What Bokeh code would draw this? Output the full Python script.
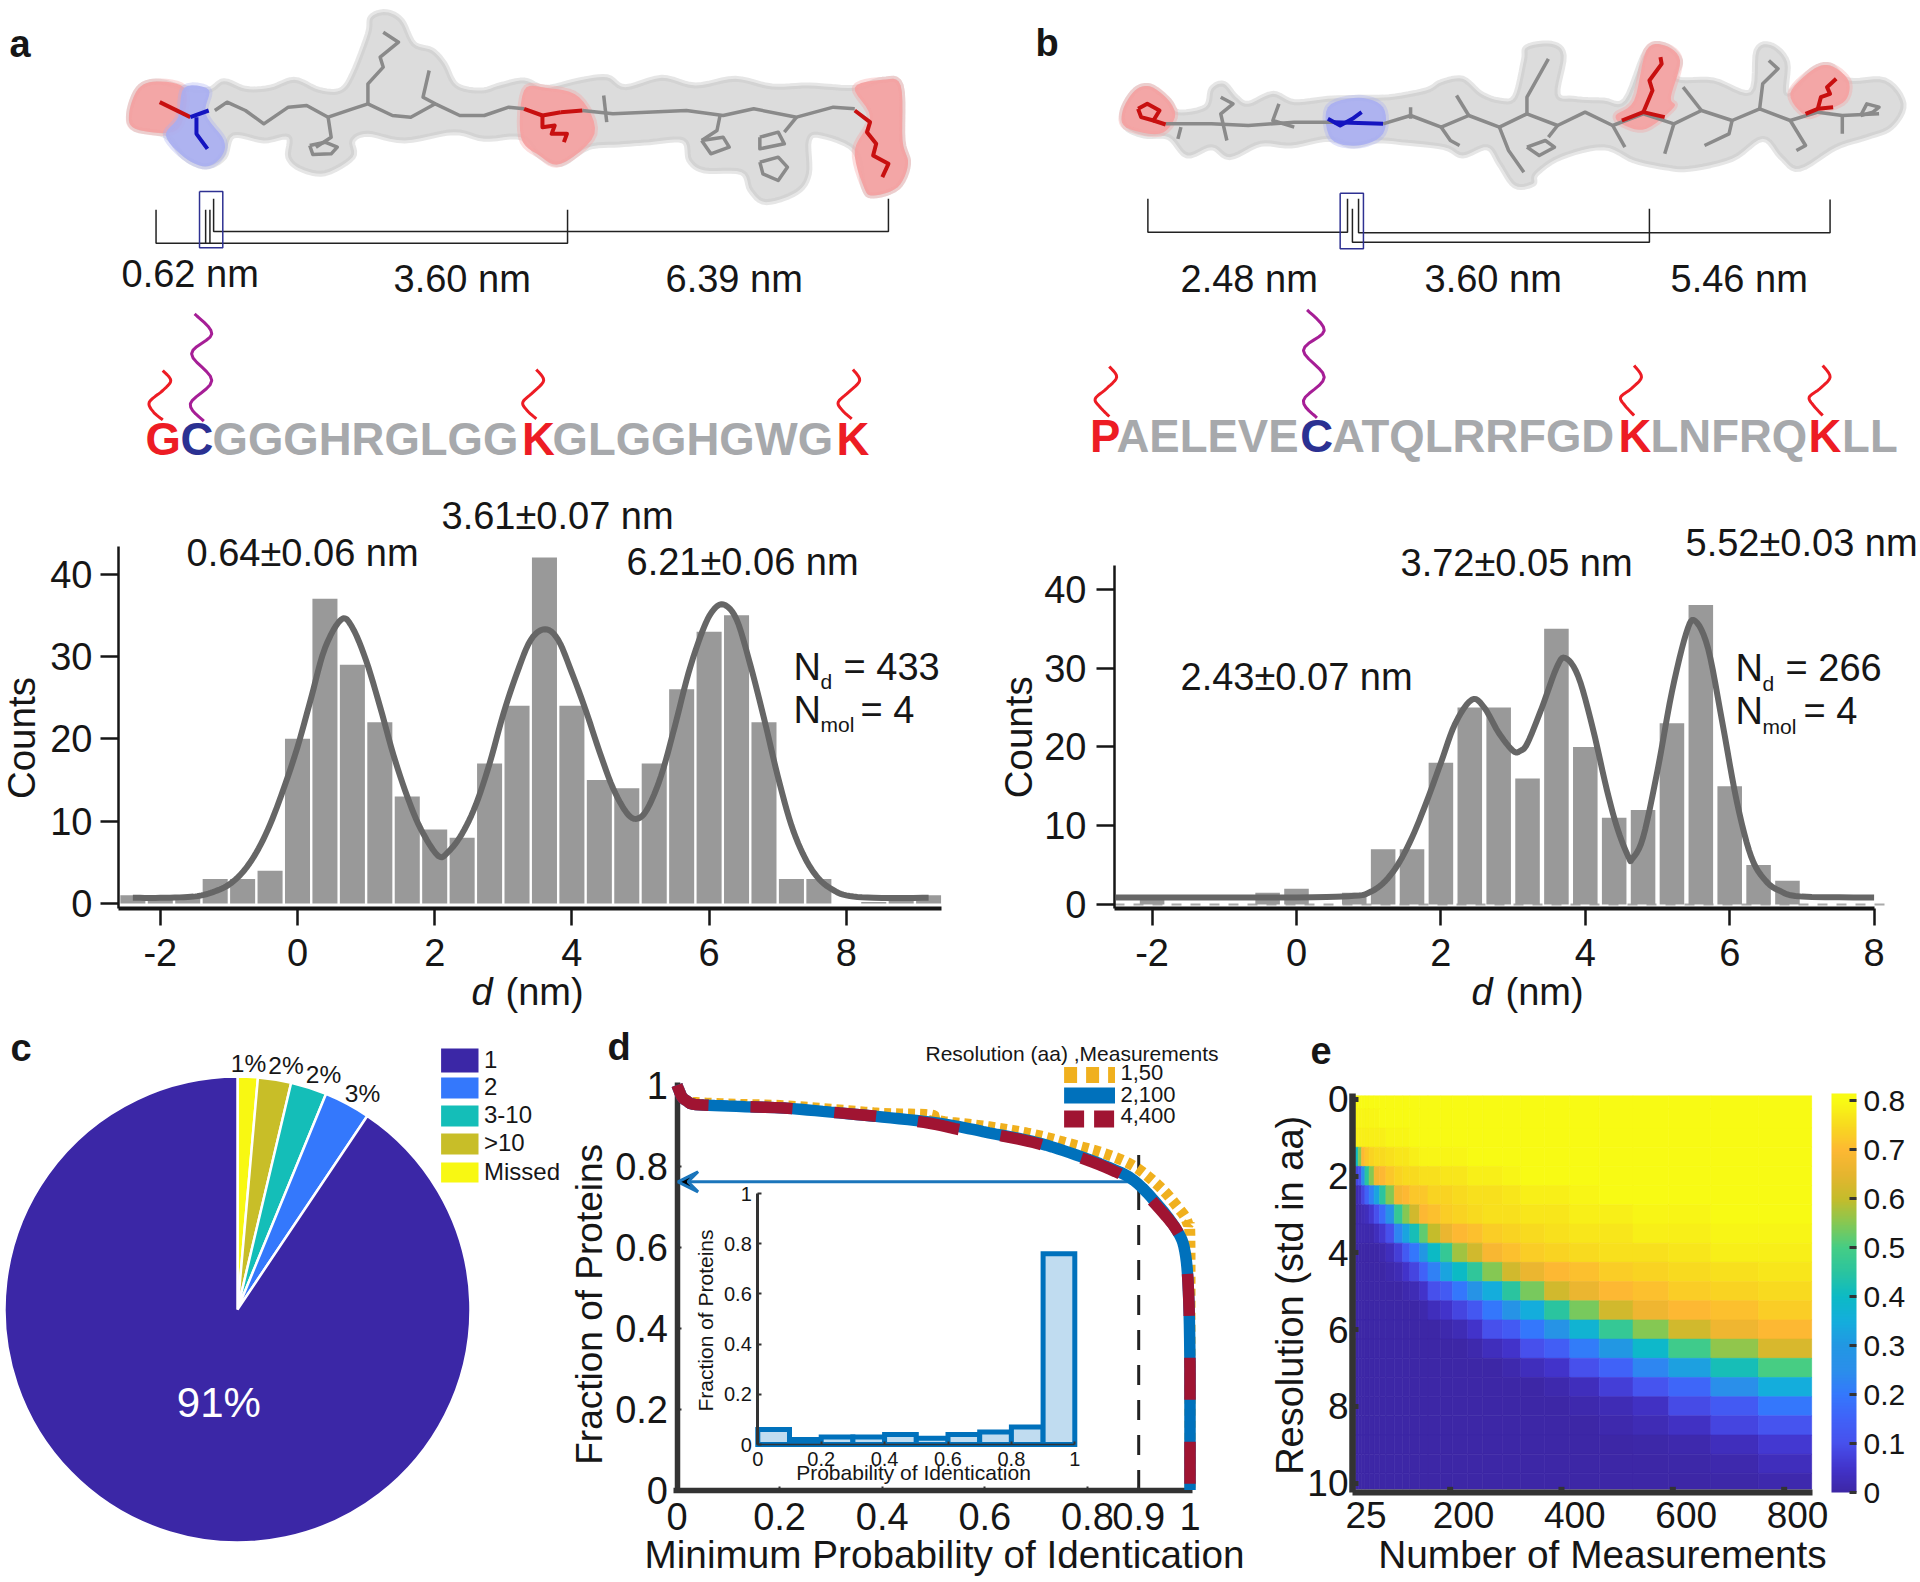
import math
import numpy as np
from bokeh.plotting import figure
from bokeh.models import (Range1d, FixedTicker, LinearColorMapper, ColorBar, Arrow, VeeHead,
                          ColumnDataSource)
from bokeh.core.properties import value
from bokeh.embed import file_html
from bokeh.resources import INLINE

FONT = "Liberation Sans"
INK = "#161616"

# ---------- panel a / b histograms ----------
a_centers = [-2.4, -2.0, -1.6, -1.2, -0.8, -0.4, 0.0, 0.4, 0.8, 1.2, 1.6, 2.0, 2.4, 2.8, 3.2, 3.6, 4.0, 4.4, 4.8, 5.2, 5.6, 6.0, 6.4, 6.8, 7.2, 7.6, 8.0, 8.4, 8.8, 9.2]
a_counts = [1, 1, 1, 3, 3, 4, 20, 37, 29, 22, 13, 9, 8, 17, 24, 42, 24, 15, 14, 17, 26, 33, 35, 22, 3, 3, 0, 0.2, 1, 1]
a_fit_x = [-2.4, -2.0, -1.6, -1.4, -1.2, -1.0, -0.8, -0.6, -0.4, -0.2, 0.0, 0.2, 0.4, 0.64, 0.8, 1.0, 1.2, 1.4, 1.6, 1.8, 2.05, 2.2, 2.4, 2.6, 2.8, 3.0, 3.2, 3.4, 3.61, 3.8, 4.0, 4.2, 4.4, 4.6, 4.8, 4.95, 5.1, 5.3, 5.5, 5.7, 5.9, 6.05, 6.21, 6.4, 6.6, 6.8, 7.0, 7.2, 7.4, 7.6, 7.8, 8.0, 8.4, 9.2]
a_fit_y = [0.7, 0.7, 0.8, 1.0, 1.5, 2.3, 3.8, 6.2, 9.6, 14, 19, 25, 31, 34.5, 33.5, 29.5, 24, 18, 13, 9, 5.8, 6.3, 8.5, 12, 17, 23, 28, 32, 33.3, 32, 28, 23.5, 18.5, 14, 11, 10.3, 11.5, 15.5, 21.5, 28, 33, 35.5, 36.3, 34.5, 29, 22.5, 15.5, 9.5, 5.5, 3, 1.7, 1.0, 0.7, 0.7]

b_centers = [-2.0, -0.4, 0.0, 0.8, 1.2, 1.6, 2.0, 2.4, 2.8, 3.2, 3.6, 4.0, 4.4, 4.8, 5.2, 5.6, 6.0, 6.4, 6.8]
b_counts = [1, 1.5, 2, 1.5, 7, 7, 18, 25, 25, 16, 35, 20, 11, 12, 23, 38, 15, 5, 3]
b_fit_x = [-2.5, 0.0, 0.8, 1.0, 1.2, 1.4, 1.6, 1.8, 2.0, 2.2, 2.43, 2.6, 2.8, 3.0, 3.1, 3.2, 3.4, 3.6, 3.72, 3.9, 4.1, 4.3, 4.45, 4.6, 4.65, 4.8, 5.0, 5.2, 5.4, 5.52, 5.7, 5.9, 6.1, 6.3, 6.5, 6.7, 7.0, 8.0]
b_fit_y = [0.9, 0.9, 1.1, 1.5, 2.7, 5, 8.5, 13, 18, 23, 26, 25, 21.8, 19.5, 19.5, 20.5, 25, 30, 31.3, 29, 22.5, 14.5, 9.5, 6, 5.8, 8.5, 17, 27, 34.5, 36, 32.5, 23, 13, 6, 3, 1.7, 1, 0.9]

# ---------- panel c ----------
pie_labels = ["Missed", ">10", "3-10", "2", "1"]
pie_values = [1.4, 2.3, 2.5, 3.2, 90.6]
pie_colors = ["#F8F812", "#C8BE28", "#14BEB8", "#3478FC", "#3B27A6"]

# ---------- panel d ----------
d_x = [0, 0.003, 0.01, 0.02, 0.035, 0.1, 0.208, 0.3, 0.4, 0.495, 0.55, 0.608, 0.695, 0.765, 0.835, 0.89, 0.94, 0.975, 0.99, 0.997, 1.0, 1.0]
d_2_100 = [1.0, 0.99, 0.97, 0.96, 0.952, 0.948, 0.943, 0.933, 0.921, 0.908, 0.897, 0.882, 0.86, 0.833, 0.80, 0.765, 0.70, 0.64, 0.59, 0.49, 0.3, 0]
d_4_400 = [1.0, 0.99, 0.97, 0.96, 0.952, 0.948, 0.943, 0.933, 0.921, 0.905, 0.89, 0.88, 0.858, 0.83, 0.797, 0.76, 0.695, 0.64, 0.59, 0.49, 0.3, 0]
d_x50 = [0.03, 0.1, 0.208, 0.3, 0.4, 0.495, 0.51, 0.608, 0.695, 0.765, 0.835, 0.89, 0.94, 0.975, 0.995, 1.0, 1.0]
d_1_50 = [0.957, 0.953, 0.949, 0.94, 0.93, 0.926, 0.912, 0.897, 0.878, 0.855, 0.83, 0.80, 0.75, 0.70, 0.66, 0.59, 0]
inset_edges = [0, 0.1, 0.2, 0.3, 0.4, 0.5, 0.6, 0.7, 0.8, 0.9, 1.0]
inset_vals = [0.06, 0.02, 0.03, 0.03, 0.04, 0.025, 0.04, 0.05, 0.07, 0.76]

# ---------- panel e ----------
e_x_edges = [5.5, 10.8, 16.8, 22.9, 30.4, 39.4, 49.3, 60.6, 75.7, 90.8, 103.6, 121.1, 136.2, 158.9, 180.1, 207.4, 234.5, 270, 302.6, 345.6, 391, 443.9, 504.5, 568.8, 644.4, 729.9, 825.6]
e_res = [0, .5, 1, 1.5, 2, 2.5, 3, 3.5, 4, 4.5, 5, 5.5, 6, 6.5, 7, 7.5, 8, 8.5, 9, 9.5, 10]
e_ticks_marks = [176, 376, 576, 776]
e_grid = [
 [.8]*26,
 [.79,.79,.79,.79,.79,.79]+[.8]*20,
 [.78,.78,.78,.78,.78,.78,.78,.79,.79,.79]+[.8]*16,
 [.4,.55,.7,.72,.74,.75,.75,.76,.77,.77,.78,.79,.79,.79,.79,.8,.8,.8,.8,.8,.8,.8,.8,.8,.8,.8],
 [.08,.1,.25,.45,.55,.68,.7,.72,.74,.75,.75,.76,.76,.77,.77,.78,.78,.79,.8,.8,.8,.8,.8,.8,.8,.8],
 [.02,.03,.08,.15,.22,.33,.45,.55,.68,.7,.72,.72,.74,.74,.75,.76,.76,.77,.78,.78,.79,.8,.8,.8,.8,.8],
 [.01,.01,.02,.03,.06,.1,.17,.27,.47,.55,.62,.7,.71,.73,.74,.75,.76,.76,.77,.77,.78,.78,.79,.79,.8,.8],
 [.01,.01,.01,.01,.01,.03,.06,.1,.23,.33,.42,.52,.6,.66,.7,.71,.73,.74,.75,.76,.77,.77,.78,.78,.79,.79],
 [0,0,0,0,0,0,.01,.03,.07,.13,.2,.3,.4,.47,.57,.62,.69,.71,.73,.74,.75,.76,.76,.77,.78,.78],
 [0,0,0,0,0,0,0,.01,.02,.05,.08,.15,.22,.33,.4,.46,.55,.62,.66,.7,.71,.73,.74,.75,.76,.77],
 [0,0,0,0,0,0,0,0,0,.01,.02,.05,.1,.13,.2,.28,.35,.45,.54,.62,.66,.7,.71,.73,.74,.75],
 [0,0,0,0,0,0,0,0,0,0,0,.01,.03,.05,.08,.12,.2,.28,.35,.45,.54,.62,.67,.7,.71,.73],
 [0,0,0,0,0,0,0,0,0,0,0,0,0,.01,.02,.05,.1,.13,.2,.28,.37,.47,.55,.62,.67,.7],
 [0,0,0,0,0,0,0,0,0,0,0,0,0,0,0,.01,.03,.05,.1,.14,.21,.3,.39,.49,.56,.63],
 [0,0,0,0,0,0,0,0,0,0,0,0,0,0,0,0,0,.01,.03,.05,.1,.15,.23,.32,.42,.5],
 [0,0,0,0,0,0,0,0,0,0,0,0,0,0,0,0,0,0,0,.01,.03,.07,.11,.16,.25,.35],
 [0,0,0,0,0,0,0,0,0,0,0,0,0,0,0,0,0,0,0,0,.01,.02,.04,.09,.13,.2],
 [0,0,0,0,0,0,0,0,0,0,0,0,0,0,0,0,0,0,0,0,0,.01,.02,.04,.08,.11],
 [0,0,0,0,0,0,0,0,0,0,0,0,0,0,0,0,0,0,0,0,0,0,.005,.01,.03,.06],
 [0,0,0,0,0,0,0,0,0,0,0,0,0,0,0,0,0,0,0,0,0,0,0,.005,.01,.03],
 [0,0,0,0,0,0,0,0,0,0,0,0,0,0,0,0,0,0,0,0,0,0,0,0,.005,.01],
]
cb_stops = [0, .05, .1, .15, .2, .25, .3, .35, .4, .45, .5, .55, .6, .65, .7, .75, .8, .815]
cb_hex = ["#3D27A6", "#4234CC", "#4751ED", "#4062F8", "#3478FC", "#2A8FEA", "#2297E3", "#14AEDC", "#0CBAC5", "#2AC49F", "#45CD85", "#85C853", "#C4BC2B", "#E5B52F", "#FDB833", "#F8D91F", "#F8FA14", "#F9FB15"]

# ---------- illustration outlines, in zoomed-crop coordinates ----------
MOL_A = [(210,340),(225,265),(255,243),(300,262),(340,268),(365,242),(400,265),(440,262),(480,238),(520,268),(555,270),(575,220),(600,100),(605,50),(630,35),(655,60),(675,130),(705,150),(725,190),(745,255),(785,270),(815,255),(855,240),(890,262),(945,240),(990,230),(1020,260),(1080,232),(1135,255),(1200,235),(1260,258),(1320,255),(1395,262),(1440,238),(1470,255),(1473,420),(1482,490),(1465,560),(1425,585),(1410,560),(1395,450),(1340,405),(1320,420),(1320,520),(1300,575),(1250,605),(1225,570),(1210,515),(1150,510),(1125,480),(1115,420),(1060,425),(1010,432),(960,440),(915,490),(880,465),(850,410),(790,415),(740,395),(660,420),(600,400),(575,420),(575,470),(530,518),(490,505),(470,470),(470,410),(430,420),(380,405),(365,470),(335,498),(300,470),(270,405),(220,385)]
A_RED = [[(210,340),(225,265),(255,243),(300,262),(300,345),(280,395),(220,385)],
         [(855,270),(890,262),(945,290),(970,400),(915,490),(880,465),(850,410)],
         [(1395,262),(1440,238),(1470,255),(1473,420),(1482,490),(1465,560),(1425,585),(1410,560),(1395,450),(1420,350)]]
A_BLUE = [[(300,262),(340,268),(335,340),(365,420),(360,470),(335,498),(300,470),(270,405),(290,350)]]
A_GRAY = [[(350,330),(370,305),(400,330),(430,370),(470,320),(500,315),(535,350),(575,325),(600,310),(640,345),(670,350),(710,310),(750,345),(790,345),(830,320),(855,325)],
          [(950,330),(1000,340),(1120,330),(1180,345),(1230,325),(1300,350),(1360,320),(1395,325)],
          [(600,310),(600,250),(625,200),(620,170),(650,125),(625,95)],[(710,310),(690,290),(700,210)],
          [(535,350),(540,410),(515,440)],[(505,435),(530,425),(550,440),(540,460),(510,462),(505,435)],
          [(985,285),(990,365)],[(1175,345),(1170,390),(1145,420)],[(1145,420),(1180,410),(1190,440),(1160,460),(1145,420)],
          [(1300,350),(1280,395)],[(1240,410),(1270,395),(1280,430),(1240,445),(1240,410)],
          [(1240,485),(1270,470),(1285,500),(1270,540),(1245,520),(1240,485)]]
A_RS = [[(260,305),(310,350)],[(855,325),(885,345),(915,335)],[(885,345),(885,380),(905,375),(900,400),(925,400),(920,425)],
        [(950,330),(915,335)],[(1395,330),(1420,365),(1415,395),(1430,430),(1425,465),(1450,490),(1440,530)]]
A_BS = [[(310,350),(340,330)],[(320,350),(320,400),(338,445)]]
MOL_B = [(265,330),(285,270),(310,258),(340,300),(355,335),(400,320),(410,265),(430,250),(450,290),(470,310),(510,280),(545,305),(600,295),(650,292),(700,290),(760,270),(785,245),(820,235),(850,280),(880,300),(905,290),(920,180),(925,140),(965,130),(985,165),(975,280),(1000,295),(1050,300),(1085,300),(1120,150),(1150,135),(1175,180),(1170,235),(1230,240),(1290,275),(1300,150),(1325,135),(1350,185),(1350,280),(1390,210),(1420,195),(1450,240),(1510,240),(1540,310),(1520,380),(1480,410),(1430,440),(1370,505),(1340,470),(1310,415),(1260,475),(1190,505),(1150,500),(1100,480),(1050,440),(980,470),(940,520),(935,550),(905,555),(880,490),(860,440),(820,465),(790,440),(720,425),(680,420),(640,435),(600,415),(540,435),(490,430),(440,470),(410,440),(370,465),(340,410),(300,405),(270,380)]
B_RED = [[(265,330),(285,270),(310,258),(340,300),(350,350),(325,400),(270,380)],
         [(1070,345),(1100,300),(1120,150),(1150,135),(1175,180),(1160,290),(1165,320),(1120,385),(1085,375)],
         [(1355,280),(1390,210),(1420,195),(1450,240),(1445,300),(1410,330),(1380,345)]]
B_BLUE = [[(600,320),(650,292),(690,320),(690,400),(650,435),(605,415)]]
B_GRAY = [[(335,370),(410,370),(470,375),(545,365),(610,365)],[(690,370),(735,345),(785,380),(830,345),(880,380),(925,340),(975,375),(1020,335),(1065,375),(1115,340),(1165,370),(1210,330),(1260,360),(1305,325),(1355,360),(1400,335),(1440,345),(1500,340)],
          [(360,380),(355,415)],[(425,290),(445,310),(425,340),(435,420)],[(520,310),(510,360),(545,380)],[(735,320),(735,355)],[(810,285),(830,345)],
          [(785,380),(800,420),(815,435)],[(925,340),(925,290),(960,175)],[(880,380),(895,450),(920,515)],[(975,375),(960,410)],[(925,440),(955,420),(970,440),(945,465),(925,440)],
          [(1065,375),(1085,440)],[(1165,370),(1150,460)],[(1180,260),(1210,330)],[(1260,360),(1255,400),(1215,435)],[(1305,325),(1310,250),(1335,205),(1320,180)],
          [(1355,360),(1380,435),(1365,450)],[(1440,345),(1440,400)],[(1470,345),(1480,310),(1500,320),(1490,335),(1470,345)]]
B_RS = [[(290,325),(305,310),(325,330),(315,360),(295,350),(290,325)],[(315,360),(335,372)],[(1080,360),(1115,335),(1150,350)],
        [(1115,335),(1130,270),(1125,240),(1145,190),(1143,170)],[(1380,340),(1400,325),(1425,320)],[(1400,325),(1405,290),(1420,280),(1415,260),(1430,235)]]
B_BS = [[(600,355),(620,375),(640,355),(655,335)],[(610,365),(690,370)]]
WAVE_A_R = [[(265,1110),(278,1140),(265,1170),(243,1205),(250,1235),(265,1258)],[(875,1107),(887,1140),(870,1175),(853,1205),(860,1230),(875,1255)],[(1392,1107),(1403,1140),(1385,1175),(1368,1205),(1375,1230),(1390,1255)]]
WAVE_A_P = [[(317,940),(345,1000),(312,1060),(345,1140),(310,1210),(332,1262)]]
WAVE_B_R = [[(243,1098),(255,1130),(238,1165),(220,1195),(228,1220),(243,1248)],[(1100,1095),(1112,1130),(1095,1165),(1078,1190),(1085,1215),(1100,1245)],[(1408,1095),(1420,1130),(1403,1165),(1386,1190),(1393,1215),(1408,1245)]]
WAVE_B_P = [[(566,928),(594,990),(560,1050),(594,1130),(560,1200),(582,1252)]]
BRK_A = [[(254,628),(254,728),(926,728),(926,628)],[(335,628),(335,728)],[(342,628),(342,728)],[(348,595),(348,693),(1450,693),(1450,595)]]
BOX_A = [(325,573),(363,573),(363,742),(325,742),(325,573)]
BRK_B = [[(306,595),(306,695),(632,695),(632,595)],[(640,625),(640,725),(1125,725),(1125,625)],[(650,595),(650,697),(1420,697),(1420,597)]]
BOX_B = [(620,578),(658,578),(658,745),(620,745),(620,578)]


def za(pts):
    return [p[0] / 1.633 for p in pts], [p[1] / 3 for p in pts]


def zb(pts):
    return [p[0] / 1.633 + 960 for p in pts], [p[1] / 3 for p in pts]


def smooth(pts, closed=False, n=6):
    P = np.array(pts, dtype=float)
    m = len(P)
    out = []
    segs = m if closed else m - 1
    for i in range(segs):
        if closed:
            p0, p1, p2, p3 = P[(i - 1) % m], P[i], P[(i + 1) % m], P[(i + 2) % m]
        else:
            p0, p1, p2, p3 = P[max(i - 1, 0)], P[i], P[i + 1], P[min(i + 2, m - 1)]
        for t in np.linspace(0, 1, n, endpoint=False):
            out.append(tuple(0.5 * ((2 * p1) + (p2 - p0) * t + (2 * p0 - 5 * p1 + 4 * p2 - p3) * t * t + (3 * p1 - p0 - 3 * p2 + p3) * t ** 3)))
    if not closed:
        out.append(tuple(P[-1]))
    return out


def curve(xs, ys):
    s = smooth(list(zip(xs, ys)))
    return [a for a, _ in s], [b for _, b in s]


def curve_d(xs, ys):
    a, b = curve(xs, ys)
    return [min(v, 1.0) for v in a], [min(max(v, 0), 1.0) for v in b]


def base_fig(fl, ft, fr, fb, xr, yr, ml=130, mr=30, mt=30, mb=90):
    fl, ft, fr, fb = int(round(fl)), int(round(ft)), int(round(fr)), int(round(fb))
    p = figure(frame_width=fr - fl, frame_height=fb - ft,
               width=fr - fl + ml + mr, height=fb - ft + mt + mb,
               min_border_left=ml, min_border_right=mr, min_border_top=mt, min_border_bottom=mb,
               x_range=Range1d(*xr), y_range=Range1d(*yr),
               output_backend="svg", toolbar_location=None,
               background_fill_color=None, border_fill_color=None, outline_line_color=None)
    p.grid.visible = False
    p.styles = {"position": "absolute", "left": f"{fl - ml}px", "top": f"{ft - mt}px"}
    return p


def style_axis(ax, size, ticks, overrides=None, lw=3, tw=2.5, t_in=0, t_out=17, standoff=8, color=INK):
    ax.ticker = FixedTicker(ticks=ticks)
    ax.minor_tick_line_color = None
    ax.axis_line_color = color
    ax.axis_line_width = lw
    ax.major_tick_line_color = color
    ax.major_tick_line_width = tw
    ax.major_tick_in = t_in
    ax.major_tick_out = t_out
    ax.major_label_standoff = standoff
    ax.major_label_text_font = FONT
    ax.major_label_text_font_size = f"{size}px"
    ax.major_label_text_color = color
    if overrides:
        ax.major_label_overrides = overrides


# ---------- background canvas: illustrations and free texts ----------
cv = figure(width=1920, height=1582, x_range=Range1d(0, 1920), y_range=Range1d(1582, 0),
            output_backend="svg", toolbar_location=None, min_border=0,
            background_fill_color=None, border_fill_color=None, outline_line_color=None)
cv.grid.visible = False
cv.axis.visible = False
cv.styles = {"position": "absolute", "left": "0px", "top": "0px"}


def T(x, y, s, size=38, color=INK, align="left", style="normal", angle=0.0, base="middle"):
    cv.text([x], [y - (1.5 if angle == 0 else 0)], [s], text_font=value(FONT), text_font_size=f"{size}px", text_color=color,
            text_align=align, text_baseline=base, text_font_style=style, angle=angle)


for conv, mol, reds, blues, gray, rs, bs in [(za, MOL_A, A_RED, A_BLUE, A_GRAY, A_RS, A_BS),
                                             (zb, MOL_B, B_RED, B_BLUE, B_GRAY, B_RS, B_BS)]:
    xs, ys = conv(smooth(mol, True))
    cv.patch(xs, ys, fill_color="#dcdcdc", line_color="#c8c8c8", line_width=6, line_alpha=0.45)
    for r in reds:
        xs, ys = conv(smooth(r, True))
        cv.patch(xs, ys, fill_color="#f5a0a0", fill_alpha=0.9, line_color="#f5a0a0", line_width=6, line_alpha=0.35)
    for r in blues:
        xs, ys = conv(smooth(r, True))
        cv.patch(xs, ys, fill_color="#a8aef2", fill_alpha=0.9, line_color="#a8aef2", line_width=6, line_alpha=0.35)
    for r in gray:
        xs, ys = conv(r)
        cv.line(xs, ys, line_color="#8a8a8a", line_width=3.5, line_join="round")
    for r in rs:
        xs, ys = conv(r)
        cv.line(xs, ys, line_color="#c81010", line_width=4, line_join="round")
    for r in bs:
        xs, ys = conv(r)
        cv.line(xs, ys, line_color="#1414c0", line_width=4, line_join="round")

for conv, wr, wp, brk, box in [(za, WAVE_A_R, WAVE_A_P, BRK_A, BOX_A), (zb, WAVE_B_R, WAVE_B_P, BRK_B, BOX_B)]:
    for w in wr:
        xs, ys = conv(smooth(w))
        cv.line(xs, ys, line_color="#ED1C24", line_width=3)
    for w in wp:
        xs, ys = conv(smooth(w))
        cv.line(xs, ys, line_color="#A61E96", line_width=3)
    for b in brk:
        xs, ys = conv(b)
        cv.line(xs, ys, line_color="#222222", line_width=1.5)
    xs, ys = conv(box)
    cv.line(xs, ys, line_color="#2E3192", line_width=1.5)

RED, BLUE, GRAY = "#ED1C24", "#2B3192", "#A7A9AC"
for x, y, s, c in [(145, 440, "G", RED), (180, 440, "C", BLUE), (212, 440, "GGGHRGLGG", GRAY), (521.6, 440, "K", RED),
                   (552, 440, "GLGGHGWG", GRAY), (836, 440, "K", RED),
                   (1089.6, 437, "P", RED), (1116, 437, "AELEVE", GRAY), (1299.7, 437, "C", BLUE), (1331.5, 437, "ATQLRRFGD", GRAY),
                   (1618, 437, "K", RED), (1650, 437, "LNFRQ", GRAY), (1808, 437, "K", RED), (1841.6, 437, "LL", GRAY)]:
    T(x, y, s, size=45.5, color=c, style="bold")

for x, y, s in [(121, 275, "0.62 nm"), (393, 280, "3.60 nm"), (665, 280, "6.39 nm"), (1180, 280, "2.48 nm"), (1424, 280, "3.60 nm"), (1670, 280, "5.46 nm"),
                (441, 517, "3.61±0.07 nm"), (186, 554, "0.64±0.06 nm"), (626, 562.7, "6.21±0.06 nm"),
                (1400, 564.4, "3.72±0.05 nm"), (1685, 544, "5.52±0.03 nm"), (1180, 677.6, "2.43±0.07 nm")]:
    T(x, y, s)

for x, y, s in [(9, 45, "a"), (1035, 44, "b"), (10, 1049, "c"), (607, 1048, "d"), (1310, 1051, "e")]:
    T(x, y, s, size=38, style="bold")

# N annotations
for nx, ny, sx, eqd, eqm, qd, qm in [(793, 667.5, 820, 843, 860, "= 433", "= 4"), (1735, 669, 1762, 1785, 1803, "= 266", "= 4")]:
    T(nx, ny, "N")
    T(sx, ny + 15, "d", size=21)
    T(eqd, ny, qd)
    T(nx, ny + 43, "N")
    T(sx, ny + 58, "mol", size=21)
    T(eqm, ny + 43, qm)

# axis titles
T(21, 737.6, "Counts", size=38.5, align="center", angle=math.pi / 2)
T(1018, 736.8, "Counts", size=38.5, align="center", angle=math.pi / 2)
for dx, nmx in [(471, 505), (1471, 1505)]:
    T(dx, 993, "d", style="italic")
    T(nmx, 993, "(nm)")
T(589, 1298.7, "Fraction of  Proteins", size=37, align="center", angle=math.pi / 2)
T(944, 1555.8, "Minimum Probability of Identication", size=38.7, align="center")
T(705, 1320, "Fraction of Proteins", size=21, align="center", angle=math.pi / 2)
T(913, 1473.4, "Probability of Identication", size=21, align="center")
T(1289, 1294.8, "Resolution (std in aa)", size=38, align="center", angle=math.pi / 2)
T(1602, 1555, "Number of Measurements", size=38.8, align="center")

# pie legend and labels
legend_rows = [("1", "#3B27A6", 1048, 1072), ("2", "#3478FC", 1077, 1098), ("3-10", "#14BEB8", 1105, 1126), (">10", "#C8BE28", 1133, 1154), ("Missed", "#F8F812", 1162, 1182)]
for s, c, y0, y1 in legend_rows:
    cv.quad(left=[440.6], right=[478], top=[y0], bottom=[y1], fill_color=c, line_color=None)
    T(483.5, (y0 + y1) / 2, s, size=24)
for x, y, s in [(248, 1064, "1%"), (285.5, 1066, "2%"), (323, 1075, "2%"), (362, 1094, "3%")]:
    T(x, y, s, size=24.5, align="center")

# line legend of d
T(925, 1054, "Resolution (aa) ,Measurements", size=21)
cv.line([1063.6, 1114.5], [1074.5, 1074.5], line_color="#F0B01E", line_width=16, line_dash="13 9")
cv.line([1063.6, 1114.5], [1095, 1095], line_color="#0071BC", line_width=16)
cv.line([1063.6, 1114.5], [1118.6, 1118.6], line_color="#A01432", line_width=17, line_dash="20 10")
for y, s in [(1073.8, "1,50"), (1095, "2,100"), (1116.8, "4,400")]:
    T(1120, y, s, size=22)

# ---------- panel a ----------
ax0, axs, ay0, ays = 297, 68.6, 903.1, 8.24
pa = base_fig(118, 546, 941, 908, ((118 - ax0) / axs, (941 - ax0) / axs), ((ay0 - 908) / ays, (ay0 - 546) / ays))
pa.vbar(a_centers, top=a_counts, width=0.365, bottom=0, fill_color="#999999", line_color=None)
cx, cy = curve(a_fit_x, a_fit_y)
pa.line(cx, cy, line_color="#666666", line_width=6, line_join="round")
style_axis(pa.xaxis[0], 38, [-2, 0, 2, 4, 6, 8], {-2: "-2"}, lw=4, standoff=13)
style_axis(pa.yaxis[0], 38, [0, 10, 20, 30, 40], lw=2.5, t_out=18, standoff=8)

# ---------- panel b ----------
bx0, bxs, by0, bys = 1296, 72.2, 904, 7.88
pb = base_fig(1114, 565, 1886, 908, ((1114 - bx0) / bxs, (1886 - bx0) / bxs), ((by0 - 908) / bys, (by0 - 565) / bys))
pb.line([(1114 - bx0) / bxs, (1886 - bx0) / bxs], [0, 0], line_color="#aaaaaa", line_width=2, line_dash="10 9")
pb.vbar(b_centers, top=b_counts, width=0.34, bottom=0, fill_color="#999999", line_color=None)
cx, cy = curve(b_fit_x, b_fit_y)
pb.line(cx, cy, line_color="#666666", line_width=6, line_join="round")
style_axis(pb.xaxis[0], 38, [-2, 0, 2, 4, 6, 8], {-2: "-2"}, lw=4, standoff=13)
pb.xaxis[0].bounds = ((1114 - bx0) / bxs, 8)
style_axis(pb.yaxis[0], 38, [0, 10, 20, 30, 40], lw=2.5, t_out=18, standoff=10)

# ---------- panel c ----------
cum = np.cumsum([0] + pie_values) / sum(pie_values)
starts = [math.pi / 2 - 2 * math.pi * c for c in cum[1:]]
ends = [math.pi / 2 - 2 * math.pi * c for c in cum[:-1]]
pc = base_fig(0, 1070, 480, 1550, ((0 - 237) / 233, (480 - 237) / 233), ((1309 - 1550) / 233, (1309 - 1070) / 233), ml=0, mr=0, mt=0, mb=0)
pc.axis.visible = False
pc.wedge(x=0, y=0, radius=1, start_angle=starts, end_angle=ends, fill_color=pie_colors, line_color="white", line_width=2.5)
pc.text([-0.08], [-0.4], ["91%"], text_font=value(FONT), text_font_size="42px", text_color="white",
        text_align="center", text_baseline="middle")

# ---------- panel d ----------
dx0, dxs, dy0, dys = 676.5, 513, 1489.5, 405
pd_ = base_fig(605, 1070, 1205, 1545, ((605 - dx0) / dxs, (1205 - dx0) / dxs), ((dy0 - 1545) / dys, (dy0 - 1070) / dys), ml=10, mr=10, mt=10, mb=10)
style_axis(pd_.xaxis[0], 38, [0, .2, .4, .6, .8, .9, 1], {0: "0", .2: "0.2", .4: "0.4", .6: "0.6", .8: "0.8", .9: "0.9", 1: "1"},
           lw=5.5, tw=2, t_in=4, t_out=0, standoff=13, color="#333333")
style_axis(pd_.yaxis[0], 38, [0, .2, .4, .6, .8, 1], {0: "0", .2: "0.2", .4: "0.4", .6: "0.6", .8: "0.8", 1: "1"},
           lw=5.5, tw=2, t_in=4, t_out=0, standoff=9, color="#333333")
pd_.xaxis[0].major_label_text_color = INK
pd_.yaxis[0].major_label_text_color = INK
pd_.xaxis[0].fixed_location = 0
pd_.yaxis[0].fixed_location = 0
pd_.xaxis[0].bounds = (-0.006, 1.005)
pd_.yaxis[0].bounds = (-0.007, 1.005)
pd_.line([0.9, 0.9], [0, 0.854], line_color="#222222", line_width=3, line_dash="20 15")
cx, cy = curve_d(d_x50, d_1_50)
pd_.line(cx, cy, line_color="#F0B01E", line_width=11, line_dash="7 5", level="overlay")
cx, cy = curve_d(d_x, d_2_100)
pd_.line(cx, cy, line_color="#0071BC", line_width=11.5, level="overlay")
cx, cy = curve_d(d_x, d_4_400)
pd_.line(cx, cy, line_color="#A01432", line_width=11.5, line_dash="42 42", level="overlay")
pd_.add_layout(Arrow(end=VeeHead(size=20, line_color="#1B75BB", line_width=3), x_start=0.89, y_start=0.761, x_end=0.002, y_end=0.761,
                     line_color="#1B75BB", line_width=3))

# inset
ix0, ixs, iy0, iys = 757.3, 317, 1444, 250.9
pi_ = base_fig(715, 1185, 1082, 1472, ((715 - ix0) / ixs, (1082 - ix0) / ixs), ((iy0 - 1472) / iys, (iy0 - 1185) / iys), ml=10, mr=10, mt=10, mb=10)
pi_.quad(left=inset_edges[:-1], right=inset_edges[1:], bottom=0, top=inset_vals, fill_color="#C0DCF0", line_color="#0071BC", line_width=5, line_join="miter")
style_axis(pi_.xaxis[0], 20, [0, .2, .4, .6, .8, 1], {0: "0", .2: "0.2", .4: "0.4", .6: "0.6", .8: "0.8", 1: "1"},
           lw=1.5, tw=2, t_in=3, t_out=0, standoff=7, color="#333333")
style_axis(pi_.yaxis[0], 20, [0, .2, .4, .6, .8, 1], {0: "0", .2: "0.2", .4: "0.4", .6: "0.6", .8: "0.8", 1: "1"},
           lw=3, tw=2, t_in=4, t_out=0, standoff=6, color="#333333")
pi_.xaxis[0].major_label_text_color = INK
pi_.yaxis[0].major_label_text_color = INK
pi_.xaxis[0].fixed_location = 0
pi_.yaxis[0].fixed_location = 0
pi_.xaxis[0].bounds = (0, 1)
pi_.yaxis[0].bounds = (0, 1)

# ---------- panel e ----------
ex0, exs, ey0, eys = 1463 - 200 * 0.5567, 0.5567, 1098.8, 38.37
pe = base_fig(1351.5, 1093, 1812, 1492, ((1352 - ex0) / exs, (1812 - ex0) / exs), ((1492 - ey0) / eys, (1093 - ey0) / eys), ml=130, mr=100, mt=30, mb=90)
stops_rgb = np.array([[int(h[i:i + 2], 16) for i in (1, 3, 5)] for h in cb_hex], dtype=float)
ts = np.linspace(0, 0.815, 256)
palette = ["#%02x%02x%02x" % tuple(int(round(np.interp(t, cb_stops, stops_rgb[:, k]))) for k in range(3)) for t in ts]
mapper = LinearColorMapper(palette=palette, low=0, high=0.815)
L, R, TT, BB, V = [], [], [], [], []
for r, row in zip(e_res, e_grid):
    for j, v in enumerate(row):
        L.append(e_x_edges[j])
        R.append(e_x_edges[j + 1])
        TT.append(max(r - 0.25, -0.09))
        BB.append(min(r + 0.25, 10.16))
        V.append(v)
src = ColumnDataSource(dict(left=L, right=R, top=TT, bottom=BB, v=V))
pe.quad(left="left", right="right", top="top", bottom="bottom", source=src,
        fill_color={"field": "v", "transform": mapper}, line_color={"field": "v", "transform": mapper}, line_width=0.6)
style_axis(pe.xaxis[0], 37, [25, 200, 400, 600, 800], lw=6, tw=0, t_in=0, t_out=0, standoff=9, color="#333333")
style_axis(pe.yaxis[0], 37, [0, 2, 4, 6, 8, 10], lw=6.5, tw=5, t_in=6, t_out=0, standoff=4, color="#333333")
pe.xaxis[0].major_label_text_color = INK
pe.yaxis[0].major_label_text_color = INK
pe.quad(left=[m - 5.4 for m in e_ticks_marks], right=[m + 5.4 for m in e_ticks_marks], top=[10.10] * 4, bottom=[10.24] * 4,
        fill_color="#333333", line_color=None, level="overlay")
cb = ColorBar(color_mapper=mapper, width=25, height=399, padding=0, margin=0, location=(19, 0),
              ticker=FixedTicker(ticks=[0, .1, .2, .3, .4, .5, .6, .7, .8]),
              major_label_overrides={0: "0", .1: "0.1", .2: "0.2", .3: "0.3", .4: "0.4", .5: "0.5", .6: "0.6", .7: "0.7", .8: "0.8"},
              major_label_text_font=FONT, major_label_text_font_size="30px", major_label_text_color=INK,
              major_tick_line_color="#333333", major_tick_line_width=3, major_tick_in=7, major_tick_out=0,
              minor_tick_line_color=None, bar_line_color=None, label_standoff=7, background_fill_color=None, border_line_color=None)
pe.add_layout(cb, "right")

open("out.html", "w").write(file_html([cv, pa, pb, pc, pd_, pi_, pe], INLINE))
